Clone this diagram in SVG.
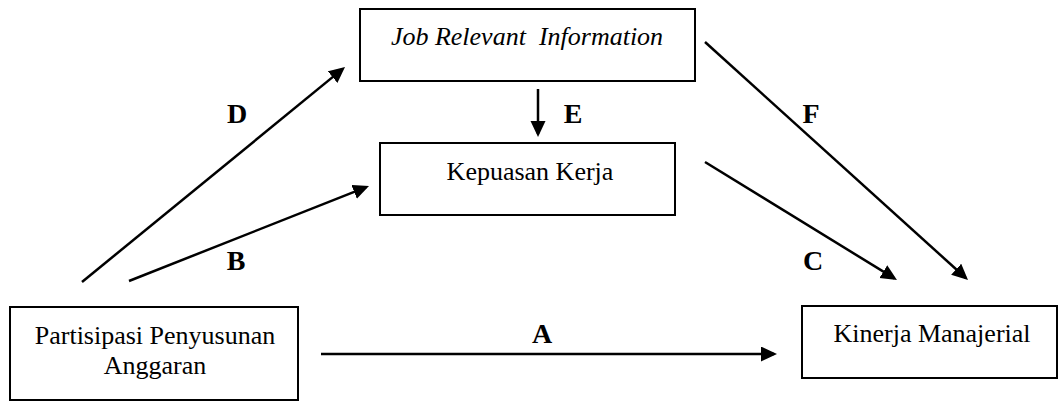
<svg xmlns="http://www.w3.org/2000/svg" width="1059" height="402" viewBox="0 0 1059 402">
  <style>
    .box { fill: #ffffff; stroke: #000000; stroke-width: 2; }
    .txt { font-family: "Liberation Serif", "Times New Roman", serif; font-size: 26px; fill: #000000; text-anchor: middle; }
    .it { font-style: italic; }
    .lbl { font-family: "Liberation Serif", "Times New Roman", serif; font-size: 28px; font-weight: bold; fill: #000000; text-anchor: middle; }
    .conn { stroke: #000000; stroke-width: 2.5; fill: none; marker-end: url(#arrow); }
  </style>
  <defs>
    <marker id="arrow" markerUnits="userSpaceOnUse" markerWidth="18" markerHeight="16" refX="13" refY="7.5" orient="auto">
      <path d="M0,0 L16,7.5 L0,15 z" fill="#000000"/>
    </marker>
  </defs>
  <rect width="1059" height="402" fill="#ffffff"/>

  <g id="node-job">
    <rect class="box" x="360" y="9" width="335" height="72"/>
    <text class="txt it" x="527" y="45" xml:space="preserve">Job Relevant  Information</text>
  </g>
  <g id="node-kepuasan">
    <rect class="box" x="380" y="143" width="295" height="72"/>
    <text class="txt" x="530" y="180">Kepuasan Kerja</text>
  </g>
  <g id="node-partisipasi">
    <rect class="box" x="10" y="307" width="288" height="93"/>
    <text class="txt" x="155" y="344">Partisipasi Penyusunan</text>
    <text class="txt" x="155" y="374">Anggaran</text>
  </g>
  <g id="node-kinerja">
    <rect class="box" x="802" y="306" width="255" height="72"/>
    <text class="txt" x="932" y="342">Kinerja Manajerial</text>
  </g>

  <g id="connectors">
    <line class="conn" x1="321" y1="354" x2="774" y2="354"/>
    <line class="conn" x1="129" y1="281" x2="366.2" y2="187.1"/>
    <line class="conn" x1="705" y1="162" x2="894.4" y2="278.4"/>
    <line class="conn" x1="82" y1="282" x2="342.7" y2="68.9"/>
    <line class="conn" x1="538" y1="89" x2="538" y2="134"/>
    <line class="conn" x1="705" y1="42" x2="965.8" y2="278.0"/>
  </g>

  <g id="labels">
    <text class="lbl" x="542" y="343">A</text>
    <text class="lbl" x="236" y="270">B</text>
    <text class="lbl" x="813" y="270">C</text>
    <text class="lbl" x="237" y="123">D</text>
    <text class="lbl" x="573" y="123">E</text>
    <text class="lbl" x="811" y="123">F</text>
  </g>
</svg>
